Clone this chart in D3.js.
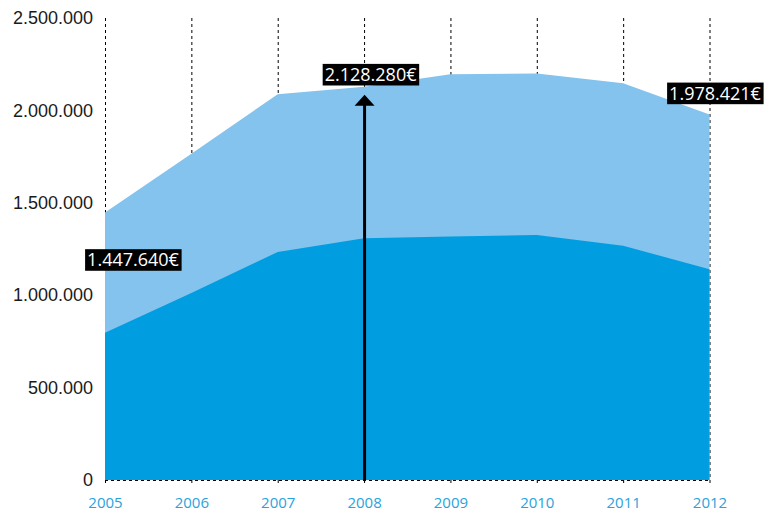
<!DOCTYPE html>
<html>
<head>
<meta charset="utf-8">
<script src="https://cdn.jsdelivr.net/npm/d3@7"></script>
<style>
  html, body { margin: 0; padding: 0; background: #fff; }
  svg { display: block; }
</style>
</head>
<body>
<svg id="chart" width="768" height="511"></svg>
<script>
// Yearly figures: total amount and the base part of it
const years = [2005, 2006, 2007, 2008, 2009, 2010, 2011, 2012];
const totalValues = [1447640, 1765000, 2088000, 2128280, 2195000, 2200000, 2147000, 1978421];
const baseValues = [797000, 1012000, 1234000, 1308000, 1318000, 1326000, 1268000, 1140000];
const yTicks = [0, 500000, 1000000, 1500000, 2000000, 2500000];
const labelYears = [2005, 2008, 2012];

const locale = d3.formatLocale({ decimal: ",", thousands: ".", grouping: [3], currency: ["", "€"] });
const fmt = locale.format(",d");

const svg = d3.select("#chart");
const x = d3.scaleLinear().domain([2005, 2012]).range([105, 709.5]);
const y = d3.scaleLinear().domain([0, 2500000]).range([480, 18]);

const rows = years.map((yr, i) => ({ year: yr, total: totalValues[i], base: baseValues[i] }));

// dashed vertical guides (behind the areas)
svg.append("g").selectAll("line").data(years).join("line")
  .attr("x1", d => x(d) + 0.5).attr("x2", d => x(d) + 0.5)
  .attr("y1", y(2500000)).attr("y2", y(0) + 3)
  .attr("stroke", "#000").attr("stroke-width", 1)
  .attr("stroke-dasharray", "3,3");

// total area
svg.append("path").datum(rows)
  .attr("fill", "#84c3ed")
  .attr("d", d3.area().x(d => x(d.year)).y0(y(0)).y1(d => y(d.total)));

// base area
svg.append("path").datum(rows)
  .attr("fill", "#009de0")
  .attr("d", d3.area().x(d => x(d.year)).y0(y(0)).y1(d => y(d.base)));

// dashed baseline
svg.append("line")
  .attr("x1", x(2005)).attr("x2", x(2012) + 1)
  .attr("y1", y(0) + 0.5).attr("y2", y(0) + 0.5)
  .attr("stroke", "#000").attr("stroke-dasharray", "3,3");

// y axis labels
const yAxis = svg.append("g").attr("transform", `translate(${x(2005)},0)`)
  .call(d3.axisLeft(y).tickValues(yTicks).tickSize(0).tickPadding(12).tickFormat(fmt));
yAxis.select(".domain").remove();
yAxis.selectAll("text")
  .attr("font-family", "'Liberation Sans', Arial, sans-serif")
  .attr("font-size", 18).attr("fill", "#1a1a1a");

// x axis labels
const xAxis = svg.append("g").attr("transform", `translate(0,${y(0)})`)
  .call(d3.axisBottom(x).tickValues(years).tickSize(0).tickPadding(17).tickFormat(d3.format("d")));
xAxis.select(".domain").remove();
xAxis.selectAll("text")
  .attr("font-family", "'Open Sans', Lato, sans-serif")
  .attr("font-weight", 400)
  .attr("font-size", 15).attr("fill", "#29a3dc");

// arrow at 2008
const ax = x(2008) + 0.5;
const tipY = y(totalValues[years.indexOf(2008)]) + 8;
svg.append("line")
  .attr("x1", ax).attr("x2", ax)
  .attr("y1", y(0)).attr("y2", tipY + 8)
  .attr("stroke", "#000").attr("stroke-width", 3);
svg.append("path")
  .attr("d", `M${ax},${tipY} L${ax + 10},${tipY + 11} L${ax - 10},${tipY + 11} Z`)
  .attr("fill", "#000");

// value callouts
const labelOffset = { 2005: [28, 47.5], 2008: [6.5, -12], 2012: [5.5, -21] };
const labels = svg.append("g").selectAll("g").data(labelYears).join("g")
  .attr("transform", d => {
    const i = years.indexOf(d);
    const [dx, dy] = labelOffset[d];
    return `translate(${x(d) + dx},${y(totalValues[i]) + dy})`;
  });
labels.each(function(d) {
  const g = d3.select(this);
  const i = years.indexOf(d);
  const rect = g.append("rect").attr("fill", "#000");
  const t = g.append("text")
    .attr("text-anchor", "middle").attr("dy", "0.36em")
    .attr("font-family", "'Open Sans', Lato, sans-serif")
    .attr("font-weight", 400)
    .attr("font-size", 18).attr("fill", "#fff")
    .text(fmt(totalValues[i]) + "€");
  const bb = t.node().getBBox();
  rect.attr("x", bb.x - 2).attr("width", bb.width + 4)
    .attr("y", -10.8).attr("height", 21.6);
});
</script>
</body>
</html>
